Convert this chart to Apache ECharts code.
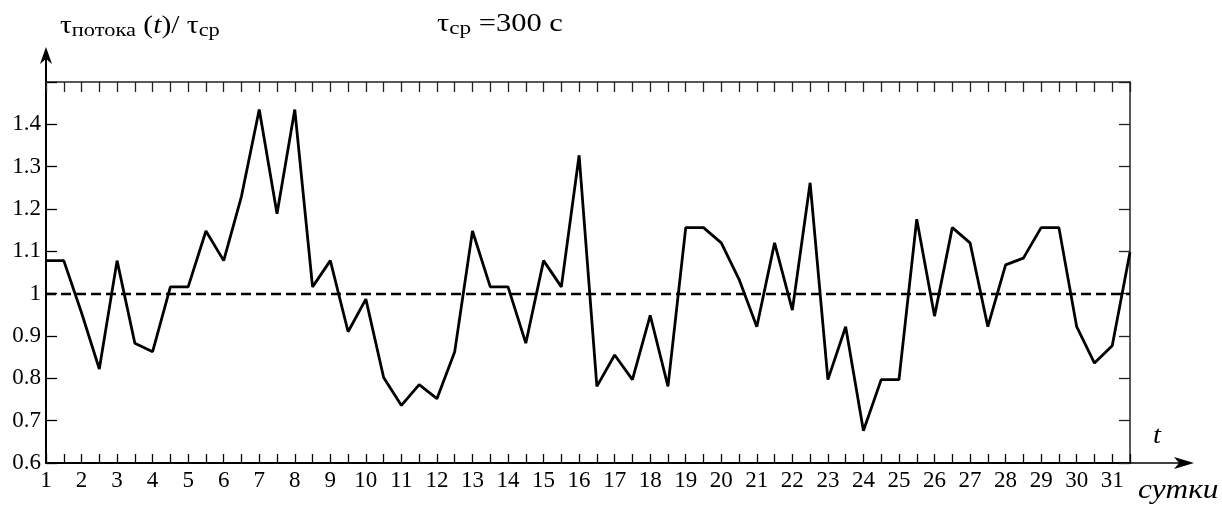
<!DOCTYPE html>
<html><head><meta charset="utf-8">
<script src="https://cdn.jsdelivr.net/npm/echarts@6/dist/echarts.min.js"></script>
<style>html,body{margin:0;padding:0;background:#fff}#c{width:1222px;height:512px}</style>
</head><body><div id="c"></div>
<script>
// x categories: half-day steps, labels only on whole days
const dayLabels = ['1','','2','','3','','4','','5','','6','','7','','8','','9','','10','','11','','12','','13','','14','','15','','16','','17','','18','','19','','20','','21','','22','','23','','24','','25','','26','','27','','28','','29','','30','','31',''];
// τпотока(t)/τср values
const ratio = [1.078,1.078,0.955,0.822,1.078,0.883,0.863,1.016,1.016,1.148,
  1.078,1.230,1.435,1.189,1.435,1.016,1.078,0.910,0.987,0.802,
  0.736,0.785,0.752,0.863,1.148,1.016,1.016,0.883,1.078,1.016,
  1.327,0.781,0.855,0.797,0.949,0.781,1.156,1.156,1.120,1.034,
  0.922,1.120,0.961,1.262,0.797,0.922,0.676,0.797,0.797,1.176,
  0.947,1.156,1.120,0.922,1.068,1.084,1.156,1.156,0.922,0.836,
  0.877,1.098];
const MEAN = 1;
const Y_MIN = 0.6, Y_MAX = 1.5, Y_STEP = 0.1;

const FONT = "'Liberation Serif','Times New Roman',serif";
const G = {left: 46, right: 92, top: 82, bottom: 49};
const W = 1222, H = 512;

const chart = echarts.init(document.getElementById('c'), null, {renderer: 'canvas'});
const xL = G.left, xR = W - G.right, yT = G.top, yB = H - G.bottom;

const mainRich = {
  a: {font: "25px " + FONT, fill: '#000', lineHeight: 30},
  i: {font: "italic 25px " + FONT, fill: '#000', lineHeight: 30},
  s: {font: "19px " + FONT, fill: '#000', lineHeight: 17, verticalAlign: 'bottom'}
};

chart.setOption({
  animation: false,
  backgroundColor: '#fff',
  grid: {left: G.left, right: G.right, top: G.top, bottom: G.bottom, containLabel: false},
  xAxis: [
    {type: 'category', data: dayLabels, boundaryGap: false, position: 'bottom',
     axisLine: {lineStyle: {color: '#000', width: 2}},
     axisTick: {inside: true, length: 9, interval: 0, lineStyle: {color: '#000', width: 1.3}},
     axisLabel: {interval: 0, margin: 6, fontFamily: FONT, fontSize: 23, color: '#000'},
     splitLine: {show: false}},
    {type: 'category', data: dayLabels, boundaryGap: false, position: 'top',
     axisLine: {lineStyle: {color: '#222', width: 1.5}},
     axisTick: {inside: true, length: 10, interval: 0, lineStyle: {color: '#222', width: 1.3}},
     axisLabel: {show: false}, splitLine: {show: false}}
  ],
  yAxis: [
    {type: 'value', min: Y_MIN, max: Y_MAX, interval: Y_STEP, position: 'left',
     axisLine: {show: true, lineStyle: {color: '#000', width: 2}},
     axisTick: {show: true, inside: true, length: 11, lineStyle: {color: '#000', width: 1.3}},
     axisLabel: {margin: 5, fontFamily: FONT, fontSize: 23, color: '#000',
       formatter: v => (Math.abs(v - Y_MAX) < 1e-6 ? '' : String(Math.round(v * 10) / 10))},
     splitLine: {show: false}},
    {type: 'value', min: Y_MIN, max: Y_MAX, interval: Y_STEP, position: 'right',
     axisLine: {show: true, lineStyle: {color: '#222', width: 1.5}},
     axisTick: {show: true, inside: true, length: 11, lineStyle: {color: '#222', width: 1.3}},
     axisLabel: {show: false}, splitLine: {show: false}}
  ],
  series: [{
    type: 'line', xAxisIndex: 0, yAxisIndex: 0, data: ratio,
    symbol: 'none', lineStyle: {color: '#000', width: 2.8}, silent: true,
    markLine: {silent: true, symbol: 'none', label: {show: false},
      lineStyle: {type: [10, 5], color: '#000', width: 2.4},
      data: [{yAxis: MEAN}]}
  }],
  graphic: [
    {type: 'line', shape: {x1: xL, y1: yT, x2: xL, y2: 54}, style: {stroke: '#000', lineWidth: 2}},
    {type: 'polygon', shape: {points: [[xL, 47], [xL - 6, 64], [xL, 59], [xL + 6, 64]]}, style: {fill: '#000'}},
    {type: 'line', shape: {x1: xR, y1: yB, x2: 1186, y2: yB}, style: {stroke: '#000', lineWidth: 1.5}},
    {type: 'polygon', shape: {points: [[1194, yB], [1174, yB - 6], [1179, yB], [1174, yB + 6]]}, style: {fill: '#000'}},
    {type: 'text', x: 60, y: 11, scaleX: 1.18,
     style: {text: '{a|τ}{s|потока}{a| (}{i|t}{a|)/ τ}{s|ср}', rich: mainRich, fill: '#000', verticalAlign: 'top'}},
    {type: 'text', x: 437, y: 9, scaleX: 1.22,
     style: {text: '{a|τ}{s|ср}{a| =300 с}', rich: mainRich, fill: '#000', verticalAlign: 'top'}},
    {type: 'text', x: 1153, y: 423, scaleX: 1.1,
     style: {text: 't', font: "italic 26px " + FONT, fill: '#000', verticalAlign: 'top'}},
    {type: 'text', x: 1138, y: 477, scaleX: 1.16,
     style: {text: 'сутки', font: "italic 27px " + FONT, fill: '#000', verticalAlign: 'top'}}
  ]
});
</script>
</body></html>
